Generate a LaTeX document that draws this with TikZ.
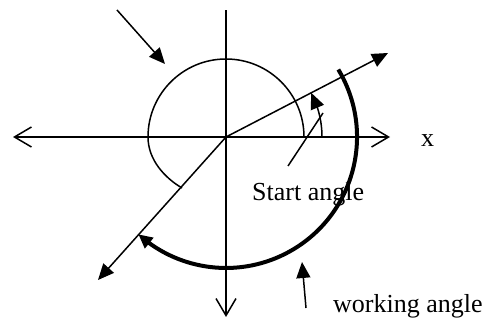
\documentclass[tikz,border=0pt]{standalone}
\usepackage{fontspec}
\setmainfont{Liberation Serif}
\usetikzlibrary{arrows.meta,bending}
\begin{document}
\begin{tikzpicture}[x=1pt,y=1pt,
  thin line/.style={line width=1.5pt},
  thick line/.style={line width=4pt},
  open tip/.style={-{Straight Barb[length=17pt,width=20pt,line width=1.5pt]}},
  filled tip/.style={-{Triangle[length=16pt,width=14pt]}},
  label text/.style={anchor=base west,inner sep=0pt,font=\fontsize{26}{30}\selectfont}]
\useasboundingbox (0,0) rectangle (489,326);
% key points
\coordinate (O) at (226,189);
\coordinate (L) at (13,189);
\coordinate (R) at (390,189);
\coordinate (T) at (226,316);
\coordinate (B) at (226,9);
\coordinate (S) at (388,273);
\coordinate (D) at (98,46);
\coordinate (tl0) at (117,316);
\coordinate (tl1) at (165,262);
\coordinate (wp0) at (306,18);
\coordinate (wp1) at (302,64);
\coordinate (sp0) at (288,160);
\coordinate (sp1) at (323,213);
\coordinate (c0) at (304,189);
\coordinate (c1) at (182,138);
\coordinate (a0) at (322,189);
\coordinate (w0) at (338.3,256.5);
% axes
\draw[thin line,open tip] (O) -- (L);
\draw[thin line,open tip] (O) -- (R);
\draw[thin line,open tip] (O) -- (B);
\draw[thin line] (O) -- (T);
% radial lines
\draw[thin line,filled tip] (O) -- (S);
\draw[thin line,filled tip] (O) -- (D);
% thin circle
\draw[thin line] (c0) arc[start angle=0,end angle=180,radius=78]
  .. controls (148,166) and (165,148) .. (c1);
% start angle arc
\draw[thin line,filled tip] (a0) arc[start angle=0,end angle=27.4,radius=96];
% working angle arc
\draw[thick line,-{Triangle[length=14pt,width=13pt]}] (w0) arc[start angle=31,end angle=-132,radius=131];
% pointers
\draw[thin line,filled tip] (tl0) -- (tl1);
\draw[thin line,filled tip] (wp0) -- (wp1);
\draw[thin line] (sp0) -- (sp1);
% labels
\node[label text] (xlab) at (421,179) {x};
\node[label text] (startlab) at (252,125.3) {Start angle};
\node[label text] (worklab) at (333,13) {working angle};
\end{tikzpicture}
\end{document}
